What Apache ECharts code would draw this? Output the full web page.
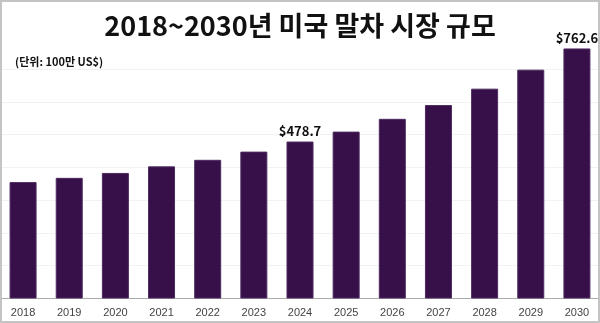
<!DOCTYPE html>
<html>
<head>
<meta charset="utf-8">
<script src="https://cdn.jsdelivr.net/npm/echarts@6/dist/echarts.min.js"></script>
<style>
html,body{margin:0;padding:0;background:#fff;}
#wrap{position:relative;width:600px;height:323px;}
#chart{position:absolute;left:0;top:0;width:600px;height:323px;}
#frame{position:absolute;left:0;top:0;width:600px;height:323px;box-sizing:border-box;border:2px solid #c4c4c4;pointer-events:none;}
</style>
</head>
<body>
<div id="wrap"><div id="chart"></div><div id="frame"></div></div>
<script>
var years = ['2018','2019','2020','2021','2022','2023','2024','2025','2026','2027','2028','2029','2030'];
var marketSize = [355, 368, 383, 403, 423, 448, 478.7, 509, 548, 590, 640, 698, 762.6];
var labeledYears = ['2024','2030'];
var titleText = '2018~2030년 미국 말차 시장 규모';
var unitText = '(단위: 100만 US$)';

var chart = echarts.init(document.getElementById('chart'), null, {renderer:'canvas'});
var data = marketSize.map(function(v, i){
  var show = labeledYears.indexOf(years[i]) >= 0;
  return {value: v, label: {show: show}};
});
chart.setOption({
  animation: false,
  backgroundColor: '#ffffff',
  title: [{
    text: titleText,
    left: 'center',
    top: 7,
    textStyle: {fontFamily: 'Noto Sans CJK KR', fontSize: 27, fontWeight: 'bold', color: '#111'}
  },{
    text: unitText,
    left: 10,
    top: 51,
    textStyle: {fontFamily: 'Noto Sans CJK KR', fontSize: 11, fontWeight: 'bold', color: '#111'}
  }],
  grid: {left: -2, right: 0, top: 36.2, bottom: 24.5, containLabel: false},
  xAxis: {
    type: 'category',
    data: years,
    axisLine: {show: true, lineStyle: {color: '#aaaaaa', width: 1}},
    axisTick: {show: false},
    axisLabel: {fontFamily: 'Liberation Sans, Arial, sans-serif', fontSize: 11, color: '#444', margin: 9}
  },
  yAxis: {
    type: 'value',
    min: 0,
    max: 800,
    interval: 100,
    axisLine: {show: false},
    axisTick: {show: false},
    axisLabel: {show: false},
    splitLine: {show: true, lineStyle: {color: ['#f2f2f2','#f2f2f2','#f2f2f2','#f2f2f2','#f2f2f2','#f2f2f2','#f2f2f2','#f2f2f2','rgba(0,0,0,0)'], width: 1}}
  },
  series: [{
    type: 'bar',
    data: data,
    barWidth: 27,
    itemStyle: {color: '#370f49', borderColor: '#4d2a60', borderWidth: 1},
    label: {
      position: 'top',
      distance: 4,
      fontFamily: 'Noto Sans CJK KR',
      fontSize: 13,
      fontWeight: 'bold',
      color: '#111',
      formatter: function(p){ return '$' + p.value; }
    },
    labelLayout: {hideOverlap: false, moveOverlap: false}
  }]
});
</script>
</body>
</html>
